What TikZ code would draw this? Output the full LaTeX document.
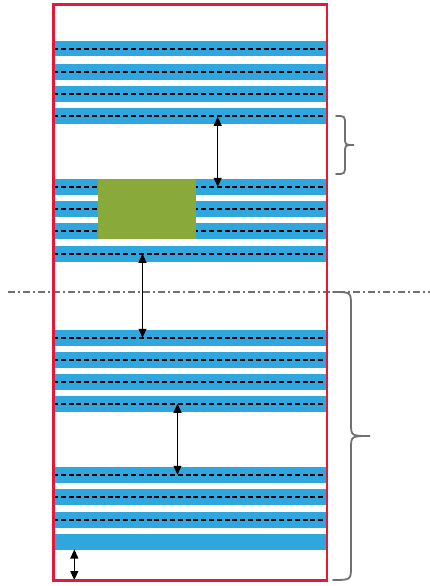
\documentclass[tikz,border=0pt]{standalone}
\usetikzlibrary{arrows.meta}
\definecolor{stripblue}{RGB}{48,166,222}
\definecolor{framered}{RGB}{228,24,56}
\definecolor{boxgreen}{RGB}{137,169,58}
\definecolor{bracegray}{RGB}{112,112,112}
\begin{document}
\begin{tikzpicture}[x=1pt,y=-1pt,
  strip/.style={fill=stripblue,draw=none},
  midline/.style={black,line width=1.8pt,dash pattern=on 5pt off 2.8pt},
  gap/.style={black,line width=1.1pt,{Triangle[length=9pt,width=8pt]}-{Triangle[length=9pt,width=8pt]}},
  bracestyle/.style={bracegray,line width=1.8pt,line cap=round}]
\useasboundingbox (0,0) rectangle (430,586);
% blue strips with dashed middle lines
\foreach \t/\d in {41/1,64/1,86/1,108/1,179/1,201/1,223/1,246/1,330/1,352/1,374/1,396/1,467/1,489/1,512/1,534/0}{
  \fill[strip] (53,\t) rectangle (327,\t+15.5);
  \ifnum\d=1 \draw[midline] (53,\t+7.75) -- (327,\t+7.75);\fi
}
% green block
\fill[boxgreen] (98,179) rectangle (195.7,239);
% gap arrows
\coordinate (a1) at (217.7,116.75); \coordinate (b1) at (217.7,186.75);
\coordinate (a2) at (142.5,253.75); \coordinate (b2) at (142.5,337.75);
\coordinate (a3) at (177.5,403.75); \coordinate (b3) at (177.5,474.75);
\coordinate (a4) at (74.3,549.5);   \coordinate (b4) at (74.3,580);
\draw[gap] (a1) -- (b1);
\draw[gap] (a2) -- (b2);
\draw[gap] (a3) -- (b3);
\draw[gap] (a4) -- (b4);
% dash-dot line
\draw[bracegray,line width=1.8pt,dash pattern=on 7pt off 3pt on 2pt off 3pt] (8,292) -- (430,292);
% red frame
\draw[framered,line width=2.4pt] (53.3,4.5) rectangle (326.7,580.5);
% small brace
\draw[bracestyle] (336,116) .. controls (345,116) .. (345,125) -- (345,137)
  .. controls (345,145) .. (354,145) .. controls (345,145) .. (345,153) -- (345,165)
  .. controls (345,174) .. (336,174);
% large brace
\draw[bracestyle] (333,292) .. controls (351,292) .. (351,306) -- (351,423)
  .. controls (351,436) .. (370,436) .. controls (351,436) .. (351,449) -- (351,566)
  .. controls (351,580) .. (333,580);
\end{tikzpicture}
\end{document}
